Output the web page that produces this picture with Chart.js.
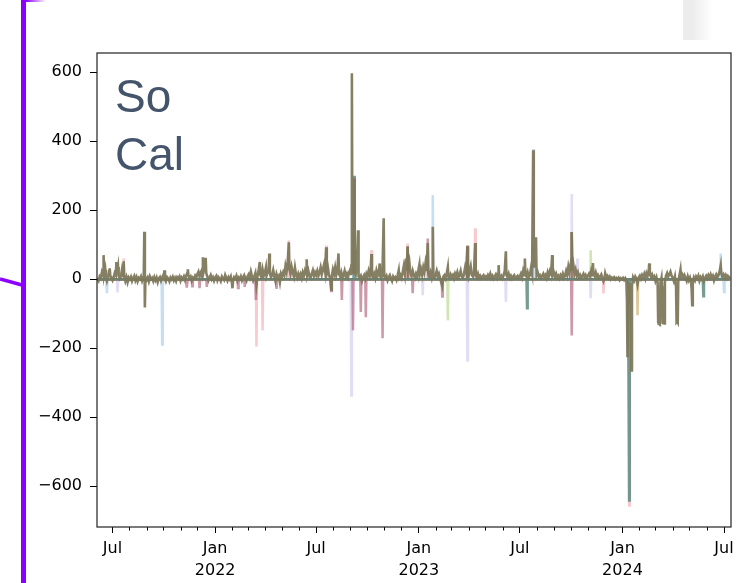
<!DOCTYPE html>
<html>
<head>
<meta charset="utf-8">
<title>So Cal</title>
<script src="https://cdn.jsdelivr.net/npm/chart.js@4.4.1/dist/chart.umd.min.js"></script>
<style>
  html, body { margin: 0; padding: 0; background: #fff; }
  #wrap { position: relative; width: 743px; height: 583px; overflow: hidden; background: #fff; }
  #chart { position: absolute; left: 0; top: 0; }
  #deco { position: absolute; left: 0; top: 0; }
  #region {
    position: absolute; left: 115px; top: 67px;
    font-family: "Liberation Sans", Arial, sans-serif;
    font-size: 46px; line-height: 58px; color: #44546a;
  }
  #fade {
    position: absolute; left: 683px; top: 0; width: 30px; height: 40px;
    background: linear-gradient(to right, #ececec 30%, rgba(236,236,236,0.35) 75%, rgba(255,255,255,0));
  }
</style>
</head>
<body>
<div id="wrap">
  <canvas id="chart" width="743" height="583"></canvas>
  <svg id="deco" width="743" height="583">
    <defs>
      <linearGradient id="topFade" x1="0" x2="1" y1="0" y2="0">
        <stop offset="0" stop-color="#8c00ff"/>
        <stop offset="1" stop-color="#8c00ff" stop-opacity="0"/>
      </linearGradient>
    </defs>
    <rect x="21" y="0" width="5" height="583" fill="#8c00ff"/>
    <rect x="26" y="0" width="20" height="2" fill="url(#topFade)"/>
    <line x1="0" y1="279" x2="22" y2="285" stroke="#8c00ff" stroke-width="3.5"/>
  </svg>
  <div id="fade"></div>
  <div id="region">So<br>Cal</div>
</div>
<script>
// daily change per feed, [date, value]
const mainSeries = [
  // 2021
  ['2021-06-04', 2], ['2021-06-06', -4], ['2021-06-08', 8], ['2021-06-10', 3], ['2021-06-12', 20], ['2021-06-14', 10],
  ['2021-06-15', 70], ['2021-06-16', 12], ['2021-06-18', 28], ['2021-06-19', 8], ['2021-06-21', -5], ['2021-06-23', 6],
  ['2021-06-25', 25], ['2021-06-26', 32], ['2021-06-27', 10], ['2021-06-29', 4], ['2021-07-01', -3], ['2021-07-03', 6],
  ['2021-07-05', 18], ['2021-07-07', 12], ['2021-07-08', 50], ['2021-07-09', 15], ['2021-07-11', 36], ['2021-07-12', 10],
  ['2021-07-14', 2], ['2021-07-16', 8], ['2021-07-18', 28], ['2021-07-20', 10], ['2021-07-21', 52], ['2021-07-22', 8],
  ['2021-07-24', -5], ['2021-07-26', 6], ['2021-07-28', -8], ['2021-07-30', 5], ['2021-08-01', 0], ['2021-08-03', 7],
  ['2021-08-05', -5], ['2021-08-07', 4], ['2021-08-09', 10], ['2021-08-11', -3], ['2021-08-13', 6], ['2021-08-15', -6],
  ['2021-08-17', 4], ['2021-08-19', 0], ['2021-08-21', 8], ['2021-08-23', -4], ['2021-08-25', 6], ['2021-08-26', 12],
  ['2021-08-27', 138], ['2021-08-28', -82], ['2021-08-29', 6], ['2021-08-31', -2], ['2021-09-02', 5], ['2021-09-04', -6],
  ['2021-09-06', 8], ['2021-09-08', 0], ['2021-09-10', 4], ['2021-09-12', -5], ['2021-09-14', 6], ['2021-09-16', -3],
  ['2021-09-18', 5], ['2021-09-20', -8], ['2021-09-22', 3], ['2021-09-24', 7], ['2021-09-26', -4], ['2021-09-28', 5],
  ['2021-09-30', 12], ['2021-10-01', 8], ['2021-10-02', 26], ['2021-10-03', 10], ['2021-10-05', -4], ['2021-10-07', 6],
  ['2021-10-09', 2], ['2021-10-11', -6], ['2021-10-13', 5], ['2021-10-15', 0], ['2021-10-17', 7], ['2021-10-19', -3],
  ['2021-10-21', 4], ['2021-10-23', -5], ['2021-10-25', 6], ['2021-10-27', 2], ['2021-10-29', 8], ['2021-10-31', -4],
  ['2021-11-02', 5], ['2021-11-04', 0], ['2021-11-06', 8], ['2021-11-08', -2], ['2021-11-10', 10], ['2021-11-12', 18],
  ['2021-11-13', 29], ['2021-11-14', 12], ['2021-11-16', 3], ['2021-11-18', 8], ['2021-11-20', -4], ['2021-11-22', 5],
  ['2021-11-24', 2], ['2021-11-26', 10], ['2021-11-28', 4], ['2021-11-30', 15], ['2021-12-02', 22], ['2021-12-04', 8],
  ['2021-12-06', 18], ['2021-12-08', 10], ['2021-12-09', 30], ['2021-12-10', 64], ['2021-12-11', 20], ['2021-12-13', 35],
  ['2021-12-15', 62], ['2021-12-16', 18], ['2021-12-18', 8], ['2021-12-20', -3], ['2021-12-22', 5], ['2021-12-24', 12],
  ['2021-12-26', 0], ['2021-12-28', 6], ['2021-12-30', -4],
  // 2022
  ['2022-01-01', 5], ['2022-01-03', 10], ['2022-01-05', -3], ['2022-01-07', 6], ['2022-01-09', 2], ['2022-01-11', -5],
  ['2022-01-13', 8], ['2022-01-15', 3], ['2022-01-17', -2], ['2022-01-19', 12], ['2022-01-21', 4], ['2022-01-23', -4],
  ['2022-01-25', 6], ['2022-01-27', 0], ['2022-01-29', 8], ['2022-01-31', -10], ['2022-02-01', -26], ['2022-02-02', -5],
  ['2022-02-04', 6], ['2022-02-06', 2], ['2022-02-08', 10], ['2022-02-10', -4], ['2022-02-12', 5], ['2022-02-14', 0],
  ['2022-02-16', 8], ['2022-02-18', -3], ['2022-02-20', 6], ['2022-02-22', 12], ['2022-02-24', 3], ['2022-02-26', -4],
  ['2022-02-28', 8], ['2022-03-02', 14], ['2022-03-04', 5], ['2022-03-06', 22], ['2022-03-08', 8], ['2022-03-10', -3],
  ['2022-03-12', 8], ['2022-03-14', 18], ['2022-03-16', -15], ['2022-03-18', 10], ['2022-03-20', 28], ['2022-03-22', 50],
  ['2022-03-23', 12], ['2022-03-25', 6], ['2022-03-27', 28], ['2022-03-29', 10], ['2022-03-31', 18], ['2022-04-02', 34],
  ['2022-04-03', 10], ['2022-04-05', 20], ['2022-04-07', 30], ['2022-04-08', 75], ['2022-04-09', 18], ['2022-04-11', 6],
  ['2022-04-13', 12], ['2022-04-15', 26], ['2022-04-17', 8], ['2022-04-19', -5], ['2022-04-21', 15], ['2022-04-23', 5],
  ['2022-04-25', 10], ['2022-04-27', -8], ['2022-04-29', 16], ['2022-05-01', 8], ['2022-05-03', 20], ['2022-05-05', 12],
  ['2022-05-07', 38], ['2022-05-09', 22], ['2022-05-11', 50], ['2022-05-13', 107], ['2022-05-14', 30], ['2022-05-16', 15],
  ['2022-05-18', 36], ['2022-05-20', 20], ['2022-05-22', 8], ['2022-05-24', 34], ['2022-05-26', 12], ['2022-05-28', 4],
  ['2022-05-30', 16], ['2022-06-01', 6], ['2022-06-03', 15], ['2022-06-05', 4], ['2022-06-07', 20], ['2022-06-09', 10],
  ['2022-06-11', 25], ['2022-06-13', 15], ['2022-06-14', 58], ['2022-06-15', 12], ['2022-06-17', 24], ['2022-06-19', 8],
  ['2022-06-21', 4], ['2022-06-23', 16], ['2022-06-25', 26], ['2022-06-27', 10], ['2022-06-29', 20], ['2022-07-01', 12],
  ['2022-07-03', 24], ['2022-07-05', 10], ['2022-07-07', 20], ['2022-07-09', 34], ['2022-07-11', 14], ['2022-07-13', 28],
  ['2022-07-15', 42], ['2022-07-17', 22], ['2022-07-19', 93], ['2022-07-20', 20], ['2022-07-22', 34], ['2022-07-24', 12],
  ['2022-07-26', 4], ['2022-07-28', -30], ['2022-07-29', 8], ['2022-07-31', 28], ['2022-08-02', 15], ['2022-08-04', 34],
  ['2022-08-06', 12], ['2022-08-08', 24], ['2022-08-10', 75], ['2022-08-11', 16], ['2022-08-13', 8], ['2022-08-15', 20],
  ['2022-08-17', 4], ['2022-08-19', 12], ['2022-08-21', 24], ['2022-08-23', 8], ['2022-08-25', 16], ['2022-08-27', 6],
  ['2022-08-29', 20], ['2022-08-31', 28], ['2022-09-01', 12], ['2022-09-02', 40], ['2022-09-03', 597], ['2022-09-04', 18],
  ['2022-09-05', 22], ['2022-09-06', 55], ['2022-09-07', 293], ['2022-09-08', 25], ['2022-09-10', 16], ['2022-09-12', 45],
  ['2022-09-14', 142], ['2022-09-15', 8], ['2022-09-17', 4], ['2022-09-19', 10], ['2022-09-21', -5], ['2022-09-23', 6],
  ['2022-09-25', 12], ['2022-09-27', 2], ['2022-09-29', 16], ['2022-10-01', 8], ['2022-10-03', 24], ['2022-10-05', 12],
  ['2022-10-07', 34], ['2022-10-08', 73], ['2022-10-09', 12], ['2022-10-11', 6], ['2022-10-13', 16], ['2022-10-15', 4],
  ['2022-10-17', 24], ['2022-10-19', 10], ['2022-10-21', 20], ['2022-10-23', 46], ['2022-10-24', 8], ['2022-10-26', 4],
  ['2022-10-28', 30], ['2022-10-30', 177], ['2022-10-31', 8], ['2022-11-02', 4], ['2022-11-04', 10], ['2022-11-06', -3],
  ['2022-11-08', 6], ['2022-11-10', 12], ['2022-11-12', 3], ['2022-11-14', -5], ['2022-11-16', 8], ['2022-11-18', 2],
  ['2022-11-20', 6], ['2022-11-22', -2], ['2022-11-24', 10], ['2022-11-26', 26], ['2022-11-27', 6], ['2022-11-29', 12],
  ['2022-12-01', 4], ['2022-12-03', 20], ['2022-12-05', 38], ['2022-12-07', 16], ['2022-12-09', 60], ['2022-12-10', 24],
  ['2022-12-12', 94], ['2022-12-13', 34], ['2022-12-15', 50], ['2022-12-17', 16], ['2022-12-19', 8], ['2022-12-21', 24],
  ['2022-12-23', 12], ['2022-12-25', 4], ['2022-12-27', 16], ['2022-12-29', 8], ['2022-12-31', 24],
  // 2023
  ['2023-01-02', 42], ['2023-01-03', 16], ['2023-01-05', 28], ['2023-01-07', 12], ['2023-01-09', 34], ['2023-01-11', 20],
  ['2023-01-13', 46], ['2023-01-15', 24], ['2023-01-17', 105], ['2023-01-18', 16], ['2023-01-20', 8], ['2023-01-22', 20],
  ['2023-01-24', 6], ['2023-01-25', 16], ['2023-01-26', 152], ['2023-01-27', 8], ['2023-01-29', 4], ['2023-01-31', 12],
  ['2023-02-02', 24], ['2023-02-04', 8], ['2023-02-06', 16], ['2023-02-08', 4], ['2023-02-10', -8], ['2023-02-12', -20],
  ['2023-02-14', 8], ['2023-02-16', 12], ['2023-02-18', 3], ['2023-02-20', 16], ['2023-02-22', 35], ['2023-02-23', 8],
  ['2023-02-25', 4], ['2023-02-27', 14], ['2023-03-01', 6], ['2023-03-03', 12], ['2023-03-05', 3], ['2023-03-07', 16],
  ['2023-03-09', 8], ['2023-03-11', 20], ['2023-03-13', 6], ['2023-03-15', 12], ['2023-03-17', 24], ['2023-03-19', 8],
  ['2023-03-21', 4], ['2023-03-23', 16], ['2023-03-25', 34], ['2023-03-27', 20], ['2023-03-29', 96], ['2023-03-30', 16],
  ['2023-03-31', 8], ['2023-04-02', 24], ['2023-04-04', 38], ['2023-04-06', 12], ['2023-04-08', 8], ['2023-04-10', 20],
  ['2023-04-12', 105], ['2023-04-13', 12], ['2023-04-15', 6], ['2023-04-17', 16], ['2023-04-19', 4], ['2023-04-21', 10],
  ['2023-04-23', 3], ['2023-04-25', 8], ['2023-04-27', 12], ['2023-04-29', 4], ['2023-05-01', 8], ['2023-05-03', 3],
  ['2023-05-05', 12], ['2023-05-07', 6], ['2023-05-09', 16], ['2023-05-11', 4], ['2023-05-13', 10], ['2023-05-15', 2],
  ['2023-05-17', 8], ['2023-05-19', 14], ['2023-05-21', 5], ['2023-05-23', 16], ['2023-05-24', 41], ['2023-05-25', 8],
  ['2023-05-27', 4], ['2023-05-29', 10], ['2023-05-31', 3], ['2023-06-02', 12], ['2023-06-04', 24], ['2023-06-06', 81],
  ['2023-06-07', 12], ['2023-06-09', 6], ['2023-06-11', 16], ['2023-06-13', 4], ['2023-06-15', 10], ['2023-06-17', 2],
  ['2023-06-19', 8], ['2023-06-21', 12], ['2023-06-23', 4], ['2023-06-25', 6], ['2023-06-27', 10], ['2023-06-29', 3],
  ['2023-07-01', 8], ['2023-07-03', 16], ['2023-07-05', 6], ['2023-07-07', 24], ['2023-07-09', 12], ['2023-07-10', 60],
  ['2023-07-11', 16], ['2023-07-13', 8], ['2023-07-15', 20], ['2023-07-17', 6], ['2023-07-19', 12], ['2023-07-21', 32],
  ['2023-07-23', 16], ['2023-07-25', 374], ['2023-07-26', 34], ['2023-07-28', 50], ['2023-07-30', 122], ['2023-07-31', 12],
  ['2023-08-02', 20], ['2023-08-04', 8], ['2023-08-06', 12], ['2023-08-08', 4], ['2023-08-10', 10], ['2023-08-12', 16],
  ['2023-08-14', 6], ['2023-08-16', 12], ['2023-08-18', 4], ['2023-08-20', 20], ['2023-08-22', 10], ['2023-08-24', 24],
  ['2023-08-26', 16], ['2023-08-28', 70], ['2023-08-29', 12], ['2023-08-31', 20], ['2023-09-02', 8], ['2023-09-04', 16],
  ['2023-09-06', 4], ['2023-09-08', 10], ['2023-09-10', 3], ['2023-09-12', 12], ['2023-09-14', 6], ['2023-09-16', 16],
  ['2023-09-18', 4], ['2023-09-20', 10], ['2023-09-22', 24], ['2023-09-24', 12], ['2023-09-26', 36], ['2023-09-28', 20],
  ['2023-09-30', 42], ['2023-10-01', 32], ['2023-10-02', 137], ['2023-10-03', 24], ['2023-10-05', 42], ['2023-10-07', 16],
  ['2023-10-09', 28], ['2023-10-11', 12], ['2023-10-13', 20], ['2023-10-15', 6], ['2023-10-17', 12], ['2023-10-19', 4],
  ['2023-10-21', 10], ['2023-10-23', 16], ['2023-10-25', 6], ['2023-10-27', 12], ['2023-10-29', 4], ['2023-10-31', 10],
  ['2023-11-02', 16], ['2023-11-04', 8], ['2023-11-06', 24], ['2023-11-08', 12], ['2023-11-09', 47], ['2023-11-10', 16],
  ['2023-11-12', 10], ['2023-11-14', 20], ['2023-11-16', 6], ['2023-11-18', 12], ['2023-11-20', 4], ['2023-11-22', 8],
  ['2023-11-24', 14], ['2023-11-26', 4], ['2023-11-28', -5], ['2023-11-30', 6], ['2023-12-01', 17], ['2023-12-03', 5],
  ['2023-12-05', 10], ['2023-12-07', 3], ['2023-12-09', 8], ['2023-12-11', 0], ['2023-12-13', 5], ['2023-12-15', 2],
  ['2023-12-17', 6], ['2023-12-19', 0], ['2023-12-21', 4], ['2023-12-23', 1], ['2023-12-25', 5], ['2023-12-27', -2],
  ['2023-12-29', 3], ['2023-12-31', 0],
  // 2024
  ['2024-01-02', 4], ['2024-01-04', -2], ['2024-01-06', 3], ['2024-01-08', -5], ['2024-01-09', -60], ['2024-01-10', -226],
  ['2024-01-11', -40], ['2024-01-13', -15], ['2024-01-15', -20], ['2024-01-16', -80], ['2024-01-17', -264], ['2024-01-18', -20],
  ['2024-01-20', 5], ['2024-01-22', -3], ['2024-01-24', 8], ['2024-01-26', 2], ['2024-01-28', -15], ['2024-01-30', 5],
  ['2024-02-01', 10], ['2024-02-03', 2], ['2024-02-05', 12], ['2024-02-07', 5], ['2024-02-09', 15], ['2024-02-11', 3],
  ['2024-02-13', 18], ['2024-02-15', 10], ['2024-02-17', 24], ['2024-02-18', 46], ['2024-02-19', 15], ['2024-02-21', 8],
  ['2024-02-23', 14], ['2024-02-25', 3], ['2024-02-27', 8], ['2024-02-29', -5], ['2024-03-02', 5], ['2024-03-04', -10],
  ['2024-03-05', -125], ['2024-03-06', -127], ['2024-03-07', -126], ['2024-03-08', -128], ['2024-03-09', -10], ['2024-03-11', 5],
  ['2024-03-12', -20], ['2024-03-13', -126], ['2024-03-14', -127], ['2024-03-15', -125], ['2024-03-16', -128], ['2024-03-17', -8],
  ['2024-03-19', 10], ['2024-03-21', 18], ['2024-03-23', 8], ['2024-03-25', 14], ['2024-03-27', 22], ['2024-03-29', 10],
  ['2024-03-31', 5], ['2024-04-02', -5], ['2024-04-04', 8], ['2024-04-06', -20], ['2024-04-07', -124], ['2024-04-08', -122],
  ['2024-04-09', -125], ['2024-04-10', -5], ['2024-04-12', 10], ['2024-04-14', 28], ['2024-04-15', 8], ['2024-04-17', 14],
  ['2024-04-19', 5], ['2024-04-21', 12], ['2024-04-23', 3], ['2024-04-25', -5], ['2024-04-27', 8], ['2024-04-29', -3],
  ['2024-05-01', 5], ['2024-05-03', -8], ['2024-05-04', -30], ['2024-05-05', -75], ['2024-05-06', -10], ['2024-05-08', 5],
  ['2024-05-10', -3], ['2024-05-12', 8], ['2024-05-14', 2], ['2024-05-16', 10], ['2024-05-18', -4], ['2024-05-20', 6],
  ['2024-05-22', 0], ['2024-05-24', 8], ['2024-05-26', -5], ['2024-05-28', 4], ['2024-05-30', 10], ['2024-06-01', 3],
  ['2024-06-03', 12], ['2024-06-05', 5], ['2024-06-07', 14], ['2024-06-09', 4], ['2024-06-11', 10], ['2024-06-13', -3],
  ['2024-06-15', 8], ['2024-06-17', 14], ['2024-06-19', 5], ['2024-06-21', 12], ['2024-06-23', 22], ['2024-06-25', 40],
  ['2024-06-26', 18], ['2024-06-28', 8], ['2024-06-30', 14], ['2024-07-02', 5], ['2024-07-04', 12], ['2024-07-06', 3],
  ['2024-07-08', 10], ['2024-07-10', 6], ['2024-07-12', 8]
];

const pinkSeries = [
  ['2021-06-04', 0], ['2021-07-20', 0], ['2021-07-21', 60], ['2021-07-22', 0],
  ['2022-03-15', 0], ['2022-03-16', -195], ['2022-03-17', 0], ['2022-03-26', 0], ['2022-03-27', -148],
  ['2022-03-28', 0], ['2022-05-12', 0], ['2022-05-13', 113], ['2022-05-14', 0], ['2022-07-18', 0],
  ['2022-07-19', 98], ['2022-07-20', 0], ['2022-10-07', 0], ['2022-10-08', 85], ['2022-10-09', 0],
  ['2022-12-11', 0], ['2022-12-12', 104], ['2022-12-13', 0], ['2023-04-11', 0], ['2023-04-12', 148],
  ['2023-04-13', 0], ['2023-11-27', 0], ['2023-11-28', -41], ['2023-11-29', 0], ['2024-01-12', 0],
  ['2024-01-13', -656], ['2024-01-14', 0], ['2024-07-12', 0]
];

const blueSeries = [
  ['2021-06-04', 0], ['2021-06-20', 0], ['2021-06-21', -40], ['2021-06-22', 0], ['2021-09-27', 0],
  ['2021-09-28', -189], ['2021-09-29', 0], ['2023-01-25', 0], ['2023-01-26', 244], ['2023-01-27', 0],
  ['2023-07-24', 0], ['2023-07-25', 378], ['2023-07-26', 0], ['2024-06-24', 0], ['2024-06-25', 75],
  ['2024-06-26', 0], ['2024-06-30', 0], ['2024-07-01', -37], ['2024-07-02', 0], ['2024-07-12', 0]
];

const lavenderSeries = [
  ['2021-06-04', 0], ['2021-07-09', 0], ['2021-07-10', -38], ['2021-07-11', 0], ['2022-09-01', 0],
  ['2022-09-02', -337], ['2022-09-03', 0], ['2023-01-07', 0], ['2023-01-08', -46], ['2023-01-09', 0],
  ['2023-03-28', 0], ['2023-03-29', -235], ['2023-03-30', 0], ['2023-06-05', 0], ['2023-06-06', -66],
  ['2023-06-07', 0], ['2023-10-01', 0], ['2023-10-02', 247], ['2023-10-03', 0], ['2023-10-11', 0],
  ['2023-10-12', 60], ['2023-10-13', 0], ['2023-11-04', 0], ['2023-11-05', -55], ['2023-11-06', 0],
  ['2024-07-12', 0]
];

const maroonSeries = [
  ['2021-06-04', 0], ['2021-11-10', 0], ['2021-11-11', -24], ['2021-11-13', 0], ['2021-11-20', 0],
  ['2021-11-21', -20], ['2021-11-22', 0], ['2021-12-03', 0], ['2021-12-04', -26], ['2021-12-05', 0],
  ['2021-12-16', 0], ['2021-12-17', -22], ['2021-12-18', 0], ['2022-02-10', 0], ['2022-02-11', -25],
  ['2022-02-12', 0], ['2022-02-22', 0], ['2022-02-23', -22], ['2022-02-24', 0], ['2022-03-14', 0],
  ['2022-03-15', -60], ['2022-03-16', 0], ['2022-04-20', 0], ['2022-04-21', -28], ['2022-04-22', 0],
  ['2022-07-27', 0], ['2022-07-28', -34], ['2022-07-29', 0], ['2022-08-15', 0], ['2022-08-16', -60],
  ['2022-08-17', 0], ['2022-09-04', 0], ['2022-09-05', -148], ['2022-09-06', 0], ['2022-09-18', 0],
  ['2022-09-19', -95], ['2022-09-20', 0], ['2022-09-27', 0], ['2022-09-28', -110], ['2022-09-29', 0],
  ['2022-10-27', 0], ['2022-10-28', -171], ['2022-10-29', 0], ['2022-12-20', 0], ['2022-12-21', -40],
  ['2022-12-22', 0], ['2023-01-16', 0], ['2023-01-17', 118], ['2023-01-18', 0], ['2023-02-11', 0],
  ['2023-02-12', -50], ['2023-02-13', 0], ['2023-10-01', 0], ['2023-10-02', -163], ['2023-10-03', 0],
  ['2024-07-12', 0]
];

const tealSeries = [
  ['2021-06-04', 0], ['2022-09-06', 0], ['2022-09-07', 300], ['2022-09-08', 0], ['2023-07-13', 0],
  ['2023-07-14', -84], ['2023-07-15', 0], ['2024-01-11', 0], ['2024-01-12', -300], ['2024-01-13', -641],
  ['2024-01-14', 0], ['2024-05-24', 0], ['2024-05-25', -49], ['2024-05-26', 0], ['2024-07-12', 0]
];

const greenSeries = [
  ['2021-06-04', 0], ['2023-02-21', 0], ['2023-02-22', -119], ['2023-02-23', 0], ['2023-11-04', 0],
  ['2023-11-05', 84], ['2023-11-06', 0], ['2024-07-12', 0]
];

const tanSeries = [
  ['2021-06-04', 0], ['2024-01-27', 0], ['2024-01-28', -104], ['2024-01-29', 0], ['2024-07-12', 0]
];

const brownSeries = [
  ['2021-06-04', 0], ['2022-12-11', 0], ['2022-12-12', 96], ['2022-12-13', 0], ['2023-03-28', 0],
  ['2023-03-29', 98], ['2023-03-30', 0], ['2023-10-01', 0], ['2023-10-02', 137], ['2023-10-03', 0],
  ['2024-07-12', 0]
];

const yTicks = [-600, -400, -200, 0, 200, 400, 600];
const monthNames = ['Jan', 'Feb', 'Mar', 'Apr', 'May', 'Jun', 'Jul', 'Aug', 'Sep', 'Oct', 'Nov', 'Dec'];

const origin = Date.UTC(2021, 6, 1);
const DAY = 86400000;
function dayOf(s) {
  const [y, m, d] = s.split('-').map(Number);
  return (Date.UTC(y, m - 1, d) - origin) / DAY;
}
function toPoints(rows) {
  return rows.map(([d, v]) => ({ x: dayOf(d), y: v }));
}

// month starts for the minor ticks, Jan/Jul for the labelled ones
const monthTicks = [];
for (let y = 2021; y <= 2024; y++) {
  for (let m = 0; m < 12; m++) {
    const v = (Date.UTC(y, m, 1) - origin) / DAY;
    if (v >= -28 && v <= 1108) monthTicks.push(v);
  }
}
const majorTicks = monthTicks.filter(v => {
  const m = new Date(origin + v * DAY).getUTCMonth();
  return m === 0 || m === 6;
});

const xMin = -27.8, xMax = 1108.5;
const yMin = -718, yMax = 656;

const feeds = [
  { data: mainSeries, color: 'rgba(126,120,92,0.95)', width: 2.6 },
  { data: tealSeries, color: 'rgba(95,140,128,0.85)', width: 2.6 },
  { data: brownSeries, color: 'rgba(140,92,70,0.75)', width: 2.5 },
  { data: maroonSeries, color: 'rgba(170,85,110,0.6)', width: 2.5 },
  { data: greenSeries, color: 'rgba(175,212,130,0.6)', width: 2.5 },
  { data: tanSeries, color: 'rgba(205,170,100,0.65)', width: 2.5 },
  { data: pinkSeries, color: 'rgba(240,150,160,0.5)', width: 2.5 },
  { data: blueSeries, color: 'rgba(150,195,230,0.55)', width: 2.5 },
  { data: lavenderSeries, color: 'rgba(200,185,235,0.5)', width: 2.5 }
];

const spines = {
  id: 'spines',
  afterDraw(chart) {
    const { ctx, chartArea: a } = chart;
    ctx.save();
    ctx.strokeStyle = '#222';
    ctx.lineWidth = 1.2;
    ctx.strokeRect(a.left, a.top, a.right - a.left, a.bottom - a.top);
    ctx.restore();
  }
};

const tickFont = { family: 'DejaVu Sans', size: 16, lineHeight: 1.35 };

new Chart(document.getElementById('chart'), {
  type: 'line',
  data: {
    datasets: feeds.map(f => ({
      data: toPoints(f.data),
      borderColor: f.color,
      borderWidth: f.width,
      pointRadius: 0,
      tension: 0,
      fill: false
    }))
  },
  options: {
    responsive: false,
    devicePixelRatio: 1,
    animation: false,
    layout: { padding: { top: 53, right: 12, left: 0, bottom: 0 } },
    plugins: { legend: { display: false }, tooltip: { enabled: false } },
    scales: {
      x: {
        type: 'linear', position: 'bottom', weight: 1, min: xMin, max: xMax,
        afterBuildTicks: a => { a.ticks = majorTicks.map(v => ({ value: v })); },
        afterFit: a => { a.height = 56; },
        ticks: {
          autoSkip: false, maxRotation: 0, padding: 5, color: '#000', font: tickFont,
          callback: v => {
            const d = new Date(origin + v * DAY);
            const m = monthNames[d.getUTCMonth()];
            return m === 'Jan' ? [m, String(d.getUTCFullYear())] : m;
          }
        },
        grid: { drawOnChartArea: false, tickLength: 6, tickColor: '#000', tickWidth: 1 },
        border: { display: false }
      },
      xMinor: {
        type: 'linear', position: 'bottom', weight: 0, min: xMin, max: xMax,
        afterBuildTicks: a => { a.ticks = monthTicks.map(v => ({ value: v })); },
        afterFit: a => { a.height = 0; },
        ticks: { display: false },
        grid: { drawOnChartArea: false, tickLength: 3.5, tickColor: '#000', tickWidth: 1 },
        border: { display: false }
      },
      y: {
        type: 'linear', min: yMin, max: yMax,
        afterBuildTicks: a => { a.ticks = yTicks.map(v => ({ value: v })); },
        afterFit: a => { a.width = 97; },
        ticks: {
          padding: 8, color: '#000', font: tickFont,
          callback: v => (v < 0 ? '\u2212' + Math.abs(v) : String(v))
        },
        grid: { drawOnChartArea: false, tickLength: 7, tickColor: '#000', tickWidth: 1 },
        border: { display: false }
      }
    }
  },
  plugins: [spines]
});
</script>
</body>
</html>
